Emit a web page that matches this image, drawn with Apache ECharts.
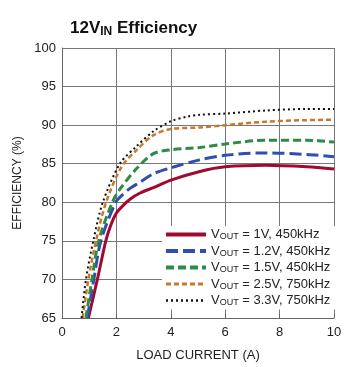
<!DOCTYPE html>
<html>
<head>
<meta charset="utf-8">
<script src="https://cdn.jsdelivr.net/npm/echarts@6/dist/echarts.min.js"></script>
<style>
  html, body { margin: 0; padding: 0; background: #fff; }
  #chart { width: 350px; height: 367px; }
</style>
</head>
<body>
<div id="chart"></div>
<script>
// efficiency curves, [load current A, efficiency %]
var v1_450k = [[0.97,65],[1.3,70],[1.61,75],[1.78,76.9],[2.0,78.6],[2.25,79.6],[2.5,80.4],[2.87,81.2],[3.36,81.9],[4.03,82.9],[5.07,84.0],[6,84.6],[7.5,84.8],[9,84.6],[10,84.3]];
var v12_450k = [[0.93,65],[1.17,70],[1.43,75],[1.97,80],[2.2,80.9],[2.5,81.8],[2.87,82.6],[3.36,83.7],[4.03,84.5],[5.07,85.5],[6,86.1],[7.5,86.4],[9,86.2],[10,85.9]];
var v15_450k = [[0.88,65],[1.1,70],[1.35,75],[1.85,80],[2.13,81.7],[2.75,84.4],[3.36,86.3],[4.0,86.8],[5.07,87.1],[6,87.55],[7.5,88.05],[9,88.05],[10,87.8]];
var v25_750k = [[0.76,65],[0.97,70],[1.25,75],[1.62,80],[2.19,84.6],[2.75,86.8],[3.36,88.7],[4,89.5],[5.07,89.7],[6,90.0],[7.5,90.45],[9,90.65],[10,90.7]];
var v33_750k = [[0.72,65],[0.88,70],[1.15,75],[1.5,80],[2.13,85],[2.75,87.3],[3.36,89.2],[4,90.5],[4.6,91.1],[5.07,91.35],[6,91.5],[7.5,91.9],[9,92.1],[10,92.1]];

var seriesNames = ['1V, 450kHz', '1.2V, 450kHz', '1.5V, 450kHz', '2.5V, 750kHz', '3.3V, 750kHz'];
var xTicks = [0, 2, 4, 6, 8, 10];
var yTicks = [65, 70, 75, 80, 85, 90, 95, 100];

var font = '"Liberation Sans Narrow", "Liberation Sans", sans-serif';

function line(name, data, color, width, dash) {
    return {
        name: name,
        type: 'line',
        data: data,
        smooth: 0.3,
        showSymbol: false,
        symbol: 'none',
        color: color,
        lineStyle: {color: color, width: width, type: dash}
    };
}

// legend swatches are drawn a bit heavier than the curves, like the datasheet
var legendWidths = [4, 4, 4, 3, 2.5];

var chart = echarts.init(document.getElementById('chart'));
chart.setOption({
    animation: false,
    backgroundColor: '#fff',
    textStyle: {fontFamily: font},
    title: {
        text: '{b|12V}{s|IN}{b| Efficiency}',
        left: 65,
        top: 14,
        textStyle: {
            rich: {
                b: {fontFamily: font, fontSize: 17, fontWeight: 'bold', color: '#111'},
                s: {fontFamily: font, fontSize: 12, fontWeight: 'bold', color: '#111', verticalAlign: 'bottom', padding: [7, 0, 0, 0]}
            }
        }
    },
    grid: {left: 62, right: 16, top: 48, bottom: 49},
    legend: {
        data: seriesNames.map(function (n, i) {
            return {name: n, lineStyle: {width: legendWidths[i]}};
        }),
        orient: 'vertical',
        left: 162,
        top: 226,
        itemWidth: 40,
        itemHeight: 14,
        itemGap: 3,
        padding: [2, 6, 2, 2],
        backgroundColor: '#fff',
        itemStyle: {opacity: 0},
        formatter: function (name) {
            return '{v|V}{s|OUT}{v| = ' + name + '}';
        },
        textStyle: {
            rich: {
                v: {fontFamily: font, fontSize: 13, color: '#222'},
                s: {fontFamily: font, fontSize: 9, color: '#222', verticalAlign: 'bottom', padding: [5, 0, 0, 0]}
            }
        }
    },
    xAxis: {
        type: 'value',
        min: 0,
        max: 10,
        interval: 2,
        name: 'LOAD CURRENT (A)',
        nameLocation: 'middle',
        nameGap: 31,
        nameTextStyle: {fontFamily: font, fontSize: 13, color: '#222'},
        axisLine: {lineStyle: {color: '#666', width: 1}},
        axisTick: {inside: true, length: 4, lineStyle: {color: '#666'}},
        axisLabel: {fontFamily: font, fontSize: 13, color: '#222', margin: 8,
            formatter: function (v) { return xTicks.indexOf(v) >= 0 ? String(v) : ''; }},
        splitLine: {show: true, lineStyle: {color: '#777', width: 1}}
    },
    yAxis: {
        type: 'value',
        min: 65,
        max: 100,
        interval: 5,
        name: 'EFFICIENCY (%)',
        nameLocation: 'middle',
        nameRotate: 90,
        nameGap: 35,
        nameTextStyle: {fontFamily: font, fontSize: 12, color: '#222'},
        axisLine: {show: true, lineStyle: {color: '#666', width: 1}},
        axisTick: {show: false},
        axisLabel: {fontFamily: font, fontSize: 13, color: '#222', margin: 6,
            formatter: function (v) { return yTicks.indexOf(v) >= 0 ? String(v) : ''; }},
        splitLine: {show: true, lineStyle: {color: '#777', width: 1}}
    },
    series: [
        line(seriesNames[0], v1_450k, '#a00a30', 3, 'solid'),
        line(seriesNames[1], v12_450k, '#2f4fae', 3, [12, 5]),
        line(seriesNames[2], v15_450k, '#2e8b45', 3, [8, 4]),
        line(seriesNames[3], v25_750k, '#c8782c', 2.5, [5, 3]),
        line(seriesNames[4], v33_750k, '#111', 2, [2, 3])
    ]
});
</script>
</body>
</html>
